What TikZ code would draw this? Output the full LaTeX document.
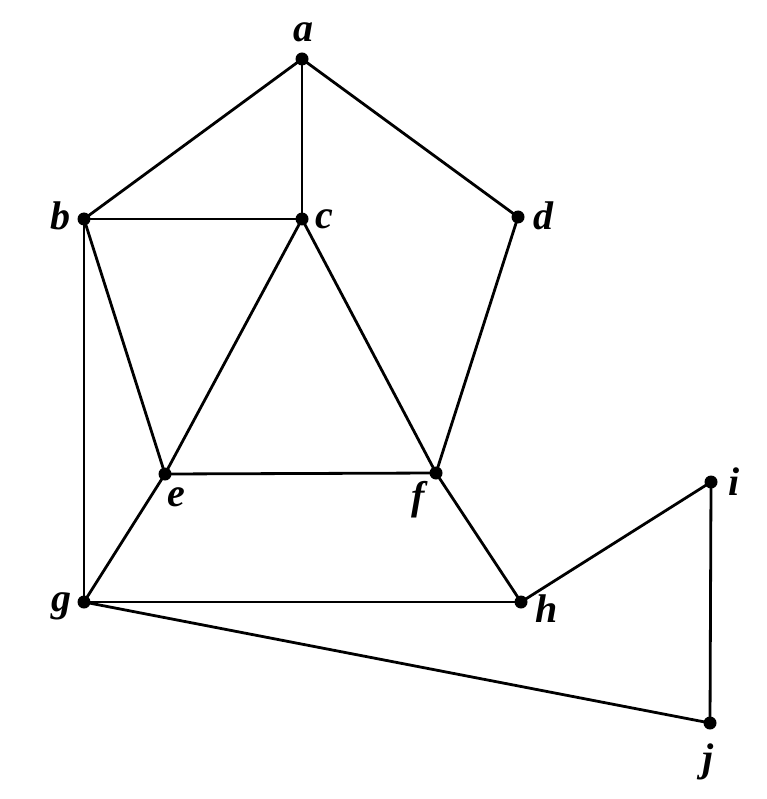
\documentclass[tikz,border=0pt]{standalone}
\usepackage{fontspec}
\setmainfont{Liberation Serif}
\begin{document}
\begin{tikzpicture}[x=1pt,y=-1pt,
  vtx/.style={circle,fill=black,inner sep=0pt,minimum size=13pt},
  lbl/.style={font=\fontsize{40}{46}\selectfont\bfseries\itshape,inner sep=0pt},
  edge/.style={line width=2.8pt,black}]
\useasboundingbox (0,0) rectangle (766,799);
\node[vtx] (a) at (302,59) {};
\node[vtx] (b) at (84,219) {};
\node[vtx] (c) at (302,219) {};
\node[vtx] (d) at (518,217) {};
\node[vtx] (e) at (165,474) {};
\node[vtx] (f) at (436,473) {};
\node[vtx] (g) at (84,602) {};
\node[vtx] (h) at (521,602) {};
\node[vtx] (i) at (711,482) {};
\node[vtx] (j) at (710,723) {};
\node[lbl] (la) at (303,32) {a};
\node[lbl] (lb) at (60,216) {b};
\node[lbl] (lc) at (324,219) {c};
\node[lbl] (ld) at (543,216) {d};
\node[lbl] (le) at (176,497) {e};
\node[lbl] (lf) at (418,500) {f};
\node[lbl] (lg) at (61,606) {g};
\node[lbl] (lh) at (547,609) {h};
\node[lbl] (li) at (734,482) {i};
\node[lbl] (lj) at (708,762) {j};
\draw[edge] (a.center) -- (b.center);
\draw[edge] (a.center) -- (c.center);
\draw[edge] (a.center) -- (d.center);
\draw[edge] (b.center) -- (c.center);
\draw[edge] (b.center) -- (e.center);
\draw[edge] (b.center) -- (g.center);
\draw[edge] (c.center) -- (e.center);
\draw[edge] (c.center) -- (f.center);
\draw[edge] (d.center) -- (f.center);
\draw[edge] (e.center) -- (f.center);
\draw[edge] (e.center) -- (g.center);
\draw[edge] (f.center) -- (h.center);
\draw[edge] (g.center) -- (h.center);
\draw[edge] (g.center) -- (j.center);
\draw[edge] (h.center) -- (i.center);
\draw[edge] (i.center) -- (j.center);
\end{tikzpicture}
\end{document}
